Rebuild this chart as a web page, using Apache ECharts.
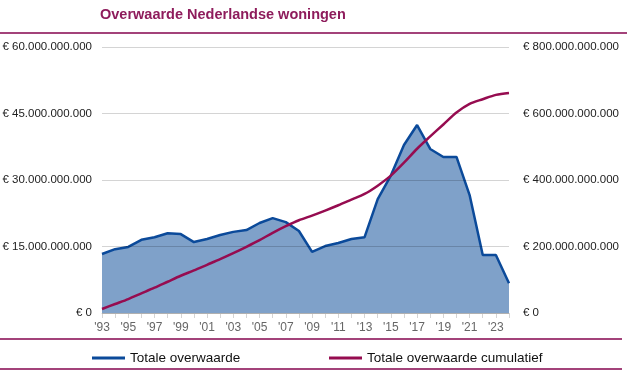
<!DOCTYPE html>
<html>
<head>
<meta charset="utf-8">
<script src="https://cdn.jsdelivr.net/npm/echarts@6/dist/echarts.min.js"></script>
<style>
  html, body { margin: 0; padding: 0; background: #fff; }
  #chart { width: 627px; height: 376px; }
</style>
</head>
<body>
<div id="chart"></div>
<script>
// jaren 1993 t/m 2024
const years = [
  "'93", "'94", "'95", "'96", "'97", "'98", "'99", "'00", "'01", "'02",
  "'03", "'04", "'05", "'06", "'07", "'08", "'09", "'10", "'11", "'12",
  "'13", "'14", "'15", "'16", "'17", "'18", "'19", "'20", "'21", "'22",
  "'23", "'24"
];
// totale overwaarde per jaar (miljard euro)
const totaal = [
  13.3, 14.4, 14.9, 16.5, 17.1, 18.0, 17.8, 16.0, 16.7, 17.6,
  18.3, 18.7, 20.3, 21.4, 20.5, 18.5, 13.8, 15.1, 15.8, 16.7,
  17.1, 25.7, 31.0, 37.9, 42.4, 37.0, 35.2, 35.2, 26.6, 13.1,
  13.1, 6.7
];
// totale overwaarde cumulatief (miljard euro)
const cumulatief = [
  12, 27, 42, 59, 76, 94, 112, 128, 145, 162,
  180, 199, 219, 241, 261, 279, 293, 308, 324, 341,
  358, 383, 413, 452, 494, 531, 567, 603, 629, 643,
  656, 662
];
const BN = 1e9;

const euro = (v) => {
  if (v === 0) return "€ 0";
  return "€ " + Math.round(v).toString().replace(/\B(?=(\d{3})+(?!\d))/g, ".");
};

const ruleColor = "#a3437a";
const chart = echarts.init(document.getElementById("chart"));

chart.setOption({
  animation: false,
  textStyle: { fontFamily: "Liberation Sans, Arial, sans-serif" },
  title: {
    text: "Overwaarde Nederlandse woningen",
    left: 95,
    top: 2,
    textStyle: { color: "#8e1c5c", fontSize: 14.5, fontWeight: "bold" }
  },
  graphic: [
    { type: "line", shape: { x1: 0, y1: 33, x2: 627, y2: 33 }, style: { stroke: ruleColor, lineWidth: 2 } },
    { type: "line", shape: { x1: 0, y1: 339, x2: 622, y2: 339 }, style: { stroke: ruleColor, lineWidth: 2 } },
    { type: "line", shape: { x1: 0, y1: 369, x2: 622, y2: 369 }, style: { stroke: ruleColor, lineWidth: 2 } }
  ],
  legend: [
    {
      data: ["Totale overwaarde"],
      left: 87, top: 346,
      itemWidth: 33, itemHeight: 3, icon: "rect",
      textStyle: { fontSize: 13.5, color: "#111" }
    },
    {
      data: ["Totale overwaarde cumulatief"],
      left: 324, top: 346,
      itemWidth: 33, itemHeight: 3, icon: "rect",
      textStyle: { fontSize: 13.5, color: "#111" }
    }
  ],
  grid: { left: 102, right: 118, top: 47, bottom: 63, outerBoundsMode: "none" },
  xAxis: {
    type: "category",
    data: years,
    boundaryGap: false,
    axisLine: { lineStyle: { color: "#d4d4d4" } },
    axisTick: { show: true, interval: 0, length: 5, lineStyle: { color: "#d4d4d4" } },
    axisLabel: { interval: 1, color: "#666", fontSize: 12, margin: 9 }
  },
  yAxis: [
    {
      type: "value",
      min: 0, max: 60 * BN, interval: 15 * BN,
      z: 2,
      axisLine: { show: false },
      axisTick: { show: false },
      axisLabel: { formatter: euro, color: "#222", fontSize: 11.5, margin: 10 },
      splitLine: { lineStyle: { color: "rgba(0,0,0,0.17)", width: 1 } }
    },
    {
      type: "value",
      min: 0, max: 800 * BN, interval: 200 * BN,
      position: "right",
      axisLine: { show: false },
      axisTick: { show: false },
      axisLabel: { formatter: euro, color: "#222", fontSize: 11.5, margin: 14 },
      splitLine: { show: false }
    }
  ],
  series: [
    {
      name: "Totale overwaarde",
      type: "line",
      z: 1,
      yAxisIndex: 0,
      data: totaal.map((v) => v * BN),
      symbol: "none",
      lineStyle: { color: "#0b4a9a", width: 2.5 },
      itemStyle: { color: "#0b4a9a" },
      areaStyle: { color: "#7fa1c9", opacity: 1 }
    },
    {
      name: "Totale overwaarde cumulatief",
      type: "line",
      z: 3,
      yAxisIndex: 1,
      data: cumulatief.map((v) => v * BN),
      symbol: "none",
      smooth: 0.3,
      lineStyle: { color: "#960c50", width: 2.5 },
      itemStyle: { color: "#960c50" }
    }
  ]
});
</script>
</body>
</html>
